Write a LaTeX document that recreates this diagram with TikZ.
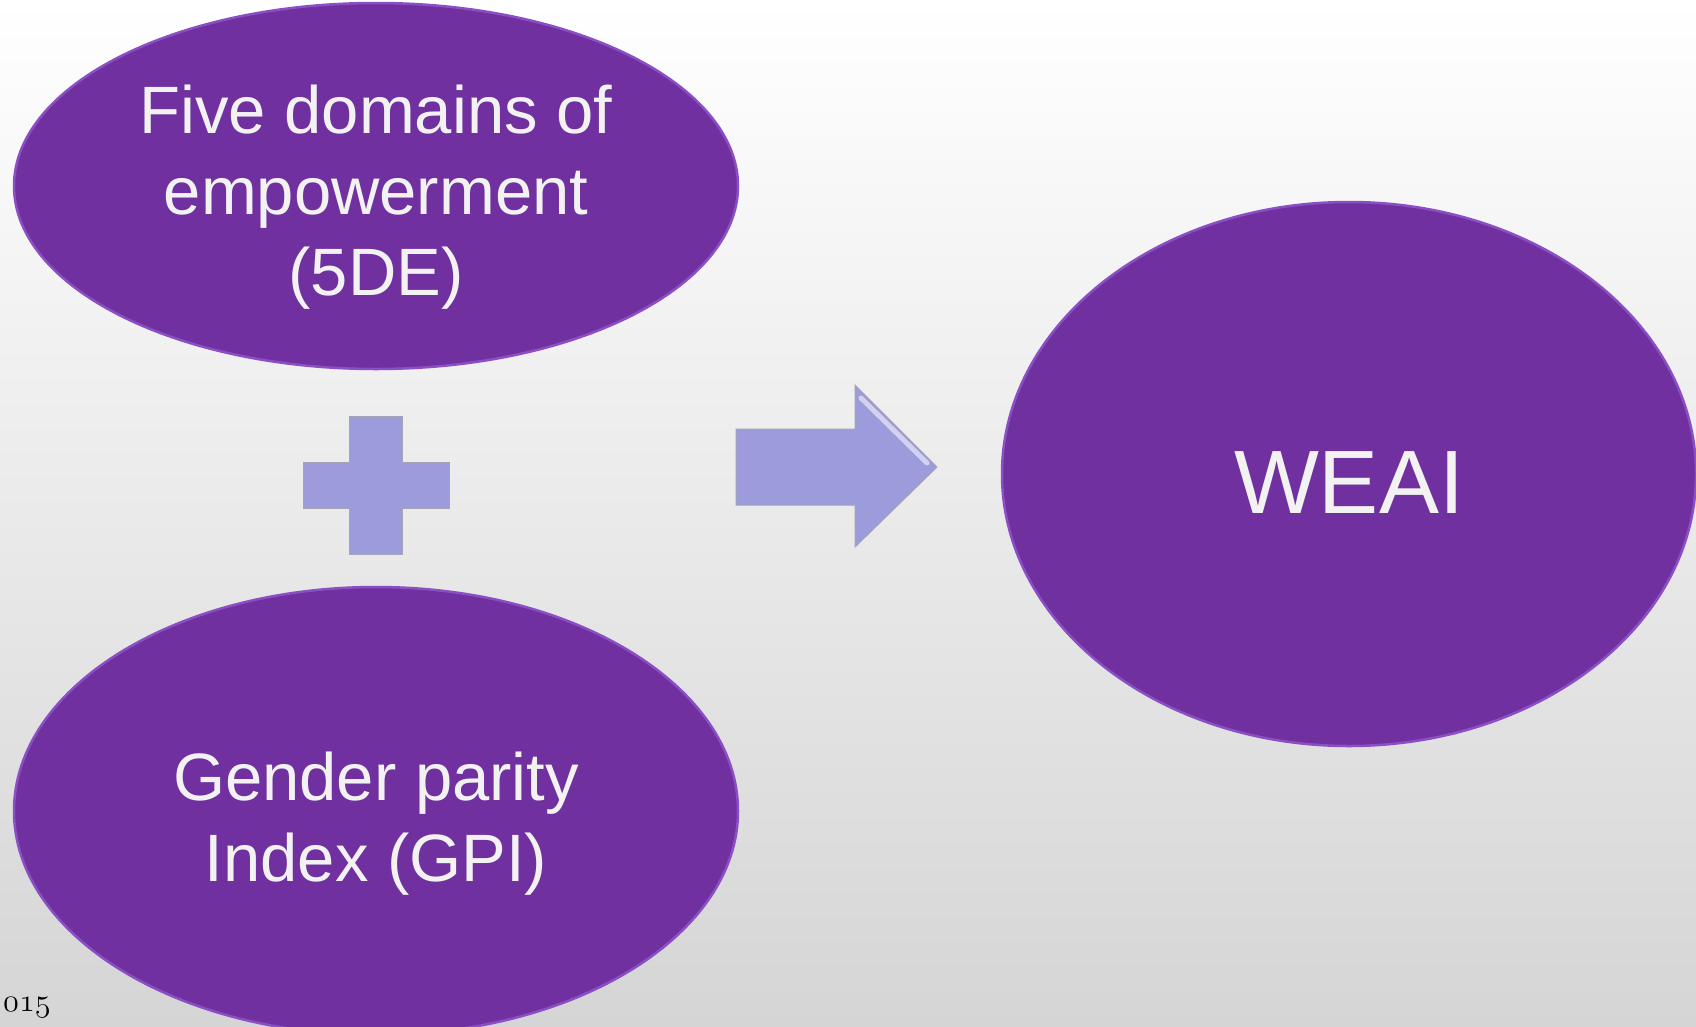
\documentclass[tikz,border=0pt]{standalone}
\usepackage{fontspec}
\setsansfont{Liberation Sans}
\usetikzlibrary{shapes.geometric}
\definecolor{weaipurple}{HTML}{7030A0}
\definecolor{weaiedge}{HTML}{8A4FC4}
\definecolor{weaitext}{HTML}{F2F2F2}
\definecolor{signblue}{HTML}{9C9CDD}
\definecolor{signedge}{HTML}{A4A4B4}
\definecolor{bgmid}{HTML}{F1F1F1}
\definecolor{bglow}{HTML}{D5D5D5}

\begin{document}
\begin{tikzpicture}[x=1pt,y=-1pt,
    blob/.style={ellipse, fill=weaipurple, draw=weaiedge, line width=2.5pt},
    words/.style={text=weaitext, align=center, inner sep=0pt,
      font=\sffamily\fontsize{67}{81}\selectfont},
    sign/.style={fill=signblue, draw=signedge, line width=1pt}]
  \clip (0,0) rectangle (1696,1026);
  \shade[top color=white, middle color=bgmid, bottom color=bglow] (0,0) rectangle (1696,1026);
  \node[blob, minimum width=724pt, minimum height=366pt] (fde) at (376,186) {};
  \node[blob, minimum width=724pt, minimum height=448pt] (gpi) at (376,811) {};
  \node[blob, minimum width=694pt, minimum height=544pt] (weai) at (1349,474) {};
  \node[words] (fdetext) at ([yshift=-11pt]fde.center) {Five domains of\\empowerment\\(5DE)};
  \node[words] (gpitext) at ([yshift=-13pt]gpi.center) {Gender parity\\Index (GPI)};
  \node[words, font=\sffamily\fontsize{90}{100}\selectfont] (weaitext) at ([yshift=-9pt]weai.center) {WEAI};
  \coordinate (plus) at (376,485);
  \draw[sign] (plus) ++(-26.5,-69) -- ++(53,0) -- ++(0,46) -- ++(46.5,0) -- ++(0,46)
    -- ++(-46.5,0) -- ++(0,46) -- ++(-53,0) -- ++(0,-46) -- ++(-46.5,0) -- ++(0,-46)
    -- ++(46.5,0) -- cycle;
  \coordinate (tip) at (937,467);
  \draw[sign] (736,429) -- (855,429) -- (855,385) -- (tip) -- (855,547) -- (855,505)
    -- (736,505) -- cycle;
  \draw[white!55!signblue, line width=5pt, line cap=round] (861,398) -- (927,463);
  \node[anchor=base west, inner sep=0pt] (yr) at (3,1011)
    {\scalebox{2.7}{\fontsize{12}{12}\usefont{OML}{cmm}{m}{it}015}};
\end{tikzpicture}
\end{document}
